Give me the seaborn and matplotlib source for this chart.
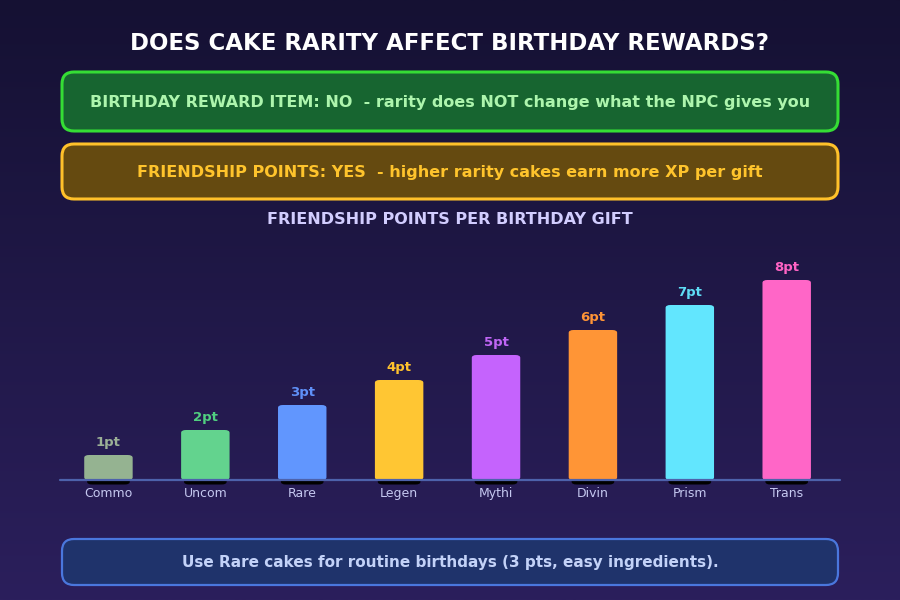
import numpy as np
import matplotlib
matplotlib.use("Agg")
import matplotlib.pyplot as plt
from matplotlib.patches import FancyBboxPatch
import seaborn as sns
import pandas as pd

# ---- data ----
tiers = ["Commo", "Uncom", "Rare", "Legen", "Mythi", "Divin", "Prism", "Trans"]
points = [1, 2, 3, 4, 5, 6, 7, 8]
bar_colors = ["#95b391", "#63d38e", "#6196fe", "#ffc633", "#c563fd", "#ff9536", "#62e6fe", "#ff66c7"]
label_colors = ["#9bb096", "#50cf80", "#5f90f8", "#ffc22d", "#c066f5", "#ff9436", "#5edcf5", "#ff63c4"]

title = "DOES CAKE RARITY AFFECT BIRTHDAY REWARDS?"
box1_text = "BIRTHDAY REWARD ITEM: NO  - rarity does NOT change what the NPC gives you"
box2_text = "FRIENDSHIP POINTS: YES  - higher rarity cakes earn more XP per gift"
subtitle = "FRIENDSHIP POINTS PER BIRTHDAY GIFT"
footer = "Use Rare cakes for routine birthdays (3 pts, easy ingredients)."

sns.set_theme(style="white")
plt.rcParams['font.family'] = ['DejaVu Sans']

W, H = 900, 600
fig = plt.figure(figsize=(9, 6), dpi=100)

# background gradient
bg = fig.add_axes([0, 0, 1, 1])
grad = np.linspace(0, 1, 256).reshape(-1, 1)
top = np.array([0x15, 0x11, 0x33]) / 255
bot = np.array([0x2b, 0x1f, 0x5c]) / 255
img = top + (bot - top) * grad[..., None]
img = img.reshape(256, 1, 3)
bg.imshow(img, aspect="auto", extent=[0, W, H, 0])
bg.set_xlim(0, W)
bg.set_ylim(H, 0)
bg.axis("off")

def px_box(x0, y0, x1, y1, fc, ec, lw=2, r=12):
    p = FancyBboxPatch((x0 + r, y0 + r), (x1 - x0) - 2 * r, (y1 - y0) - 2 * r,
                       boxstyle=f"round,pad={r}", fc=fc, ec=ec, lw=lw, zorder=2)
    bg.add_patch(p)

bg.text(450, 43, title, color="white", fontsize=16.5, fontweight="bold",
        ha="center", va="center", zorder=3)

px_box(62, 72, 838, 131, "#176530", "#35dd35", lw=2.2)
bg.text(450, 102, box1_text, color="#adf5ad", fontsize=11.5, fontweight="bold",
        ha="center", va="center", zorder=3)

px_box(62, 144, 838, 199, "#654a10", "#ffc12a", lw=2.2)
bg.text(450, 172, box2_text, color="#ffc42c", fontsize=11.5, fontweight="bold",
        ha="center", va="center", zorder=3)

bg.text(450, 219, subtitle, color="#d2cdff", fontsize=11.5, fontweight="bold",
        ha="center", va="center", zorder=3)

px_box(62, 539, 838, 585, "#1f336b", "#4a77dd", lw=1.6)
bg.text(450, 562, footer, color="#c3d2f8", fontsize=11, fontweight="bold",
        ha="center", va="center", zorder=3)

# ---- bar chart ----
ax = fig.add_axes([60 / W, 1 - 480 / H, 780 / W, 230 / H])
ax.set_facecolor("none")
df = pd.DataFrame({"tier": tiers, "points": points})
sns.barplot(data=df, x="tier", y="points", hue="tier", palette=bar_colors,
            legend=False, width=0.5, ax=ax, saturation=1)
ax.set_xlim(-0.5, len(tiers) - 0.45)
ax.set_ylim(0, 9.2)

# replace rectangles with rounded bars + shadow
rects = list(ax.patches)
for i, rect in enumerate(rects):
    x, y = rect.get_x(), rect.get_y()
    w, h = rect.get_width(), rect.get_height()
    rect.set_visible(False)
    ax.add_patch(FancyBboxPatch((x + 0.03, y - 0.18), w - 0.06, h,
                                boxstyle="round,pad=0,rounding_size=0.05",
                                fc="black", ec="none", zorder=2,
                                mutation_aspect=2.2, clip_on=False))
    ax.add_patch(FancyBboxPatch((x, y), w, h,
                                boxstyle="round,pad=0,rounding_size=0.05",
                                fc=bar_colors[i], ec="none", zorder=3,
                                mutation_aspect=2.2, clip_on=False))
    ax.text(x + w / 2, h + 0.24, f"{points[i]}pt", color=label_colors[i],
            fontsize=9.5, fontweight="bold", ha="center", va="bottom", zorder=4)

ax.axhline(0.02, color="#4d62ab", lw=1.6, zorder=5, clip_on=False)
for s in ax.spines.values():
    s.set_visible(False)
ax.set_xlabel("")
ax.set_ylabel("")
ax.set_yticks([])
ax.tick_params(axis="x", length=0, pad=5, colors="#c5c8f0", labelsize=9)

fig.savefig("out.png", dpi=100)
